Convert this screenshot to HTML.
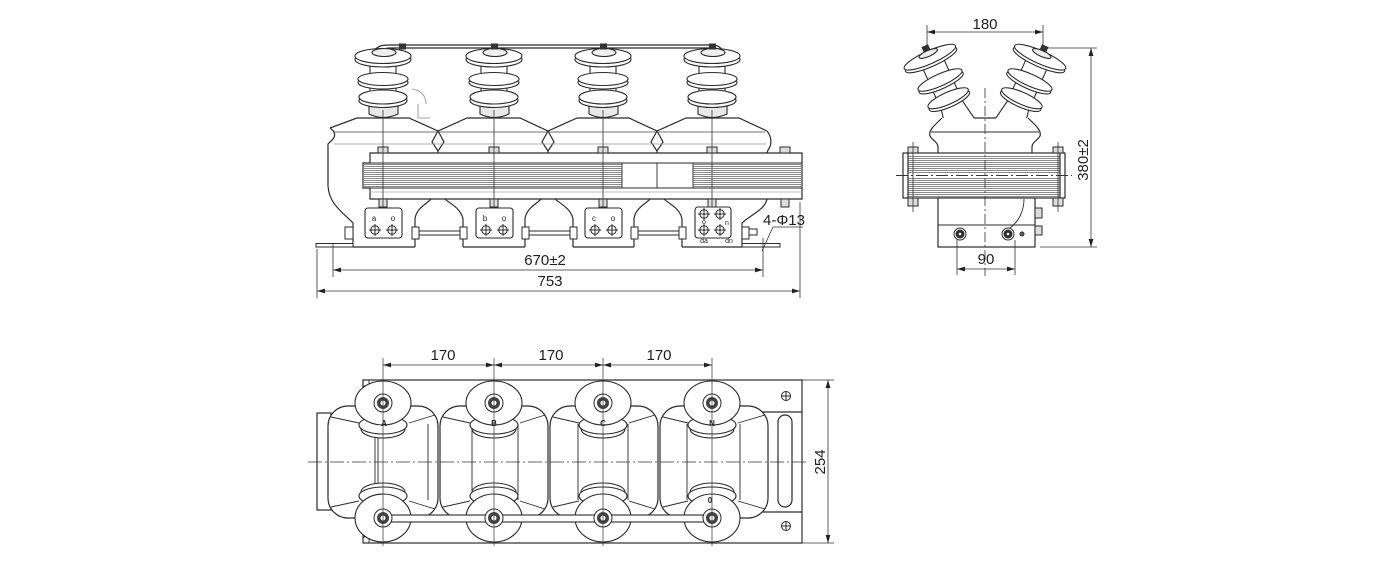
<!DOCTYPE html>
<html><head><meta charset="utf-8">
<style>
html,body{margin:0;padding:0;background:#fff;width:1400px;height:566px;overflow:hidden}
svg{display:block}
text{font-family:"Liberation Sans",Arial,sans-serif;fill:#1e1e1e}
</style></head><body>
<svg xmlns="http://www.w3.org/2000/svg" width="1400" height="566" viewBox="0 0 1400 566">
<defs>
<marker id="ar" viewBox="0 0 8 6" refX="8" refY="3" markerWidth="8" markerHeight="6" markerUnits="userSpaceOnUse" orient="auto-start-reverse"><path d="M0,0.6 L8,3 L0,5.4 Z" fill="#222"/></marker>
<g id="fins" stroke="#2b2b2b" stroke-width="1.1">
 <rect x="-13" y="56" width="26" height="50" fill="#fff"/>
 <path d="M-14,104 L-14,114 Q0,121 15,114 L15,104 Z" fill="#e8e8e8"/>
 <ellipse cx="0" cy="100.5" rx="24" ry="7" fill="#fff"/>
 <ellipse cx="0" cy="97" rx="24" ry="7" fill="#fff"/>
 <ellipse cx="0" cy="82.5" rx="25" ry="6.5" fill="#fff"/>
 <ellipse cx="0" cy="79" rx="25" ry="6.5" fill="#fff"/>
 <ellipse cx="0" cy="59.5" rx="28" ry="7.5" fill="#fff"/>
 <ellipse cx="0" cy="56" rx="28" ry="7.5" fill="#fff"/>
 <ellipse cx="1" cy="52.5" rx="12" ry="4" fill="#efefef"/>
</g>
<g id="sins" stroke="#2b2b2b" stroke-width="1.1">
 <path d="M-11,-30 L-11,28 L-15,50 L16,50 L12,28 L12,-30 Z" fill="#fff"/>
 <ellipse cx="0" cy="23" rx="22" ry="6" fill="#fff"/>
 <ellipse cx="0" cy="20" rx="22" ry="6" fill="#fff"/>
 <ellipse cx="0" cy="3" rx="24" ry="6" fill="#fff"/>
 <ellipse cx="0" cy="0" rx="24" ry="6" fill="#fff"/>
 <ellipse cx="0" cy="-22" rx="28" ry="6.5" fill="#fff"/>
 <ellipse cx="0" cy="-25" rx="28" ry="6.5" fill="#fff"/>
 <ellipse cx="0" cy="-29" rx="10" ry="3" fill="#eee"/>
 <rect x="-3" y="-37" width="6" height="5" fill="#333"/>
</g>
<g id="ptop" stroke="#2b2b2b" stroke-width="1.1">
 <ellipse cx="0" cy="26" rx="22" ry="9" fill="#fff"/>
 <ellipse cx="0" cy="22" rx="24" ry="9" fill="#fff"/>
 <ellipse cx="0" cy="0" rx="28" ry="22" fill="#fff"/>
</g>
<g id="pbot" stroke="#2b2b2b" stroke-width="1.1">
 <ellipse cx="0" cy="-26" rx="22" ry="9" fill="#fff"/>
 <ellipse cx="0" cy="-22" rx="24" ry="9" fill="#fff"/>
 <ellipse cx="0" cy="0" rx="28" ry="24" fill="#fff"/>
</g>
<g id="ring" stroke="#2b2b2b" stroke-width="1">
 <circle r="9" fill="#fff"/><circle r="6" fill="#444" stroke="none"/><circle r="3" fill="#fff" stroke-width="0.8"/>
</g>
<g id="tc" stroke="#2b2b2b" stroke-width="1"><circle r="4.2" fill="#fff"/><path d="M-6,0 H6 M0,-6 V6"/></g>
</defs>

<!-- ================= FRONT VIEW ================= -->
<g fill="none" stroke="#2b2b2b" stroke-width="1.2">
 <path d="M375,50 C378,46 382,45 388,45 L712,45 C717,45 721,47 723,52"/>
 <path d="M380,51 C383,49 386,48 390,48 L711,48 C715,48 718,50 719,53"/>
 <path d="M330,128 L357,118 L409,118 L438,131 L467,118 L520,118 L548,131 L577,118 L629,118 L657,131 L686,118 L739,118 L767,131"/>
 <path d="M330,128 C336,132 336,137 331,141 L328,144 L328,186 C329,205 345,214 353,223 L353,247"/>
 <path d="M767,131 C772,137 772,145 768,150 L767,153"/>
 <path d="M767,199 C765,210 750,215 742,223 L742,247"/>
 <path d="M438,131 L432,142 L438,151 L444,142 Z M438,151 V153"/>
 <path d="M548,131 L542,142 L548,151 L554,142 Z M548,151 V153"/>
 <path d="M657,131 L651,142 L657,151 L663,142 Z M657,151 V153"/>
 <path d="M333,132 H765" stroke="#444" stroke-width="0.8"/>
 <path d="M334,144 H766" stroke="#999" stroke-width="0.7"/>
 <path d="M415,247 V219 C416,208 428,203 431,199 M445,199 C449,203 461,208 463,219 V247"/>
 <path d="M525,247 V219 C526,208 538,203 541,199 M555,199 C559,203 571,208 573,219 V247"/>
 <path d="M634,247 V219 C635,208 647,203 650,199 M664,199 C668,203 680,208 682,219 V247"/>
 <path d="M353,247 H415 M463,247 H525 M573,247 H634 M682,247 H742"/>
 <path d="M412,89 C420,90 426,95 426,104 M418,104 V118 H430" stroke="#888" stroke-width="0.8"/>
</g>
<use href="#fins" x="383"/>
<use href="#fins" x="494"/>
<use href="#fins" x="603"/>
<use href="#fins" x="712"/>
<g fill="#333">
 <rect x="399" y="43.5" width="7" height="6"/>
 <rect x="491" y="43.5" width="7" height="6"/>
 <rect x="600" y="43.5" width="7" height="6"/>
 <rect x="709" y="43.5" width="7" height="6"/>
</g>
<!-- core -->
<g fill="none" stroke="#2b2b2b" stroke-width="1.2">
 <path d="M370,153 H802 V199 H370 V188 H363 V163 H370 Z" fill="#fff"/>
 <path d="M363,164.5H622M693,164.5H802M363,166.5H622M693,166.5H802M363,168.5H622M693,168.5H802M363,170.5H622M693,170.5H802M363,172.5H622M693,172.5H802M363,174.5H622M693,174.5H802M363,176.5H622M693,176.5H802M363,178.5H622M693,178.5H802M363,180.5H622M693,180.5H802M363,182.5H622M693,182.5H802M363,184.5H622M693,184.5H802M363,186.5H622M693,186.5H802" stroke="#8a8a8a" stroke-width="1"/>
 <path d="M363,163 H802 M363,188 H802 M622,163 V188 M693,163 V188 M657,163 V188" stroke-width="0.9"/>
 <path d="M370,192 H802" stroke="#aaa" stroke-width="0.7"/>
</g>
<g fill="#ddd" stroke="#2b2b2b" stroke-width="1">
 <rect x="378" y="147" width="10" height="6"/><rect x="489" y="147" width="10" height="6"/>
 <rect x="598" y="147" width="10" height="6"/><rect x="707" y="147" width="10" height="6"/>
 <rect x="780" y="147" width="10" height="6"/>
 <rect x="379" y="199" width="8" height="8"/><rect x="490" y="199" width="8" height="8"/>
 <rect x="599" y="199" width="8" height="8"/><rect x="708" y="199" width="8" height="8"/>
 <rect x="781" y="199" width="8" height="8"/>
</g>
<path d="M383,110 V208 M494,110 V208 M603,110 V208 M712,110 V208" stroke="#333" stroke-width="0.8"/>
<g fill="#fff" stroke="#2b2b2b" stroke-width="1.1">
 <rect x="365" y="208" width="37" height="30" rx="3"/>
 <rect x="476" y="208" width="37" height="30" rx="3"/>
 <rect x="585" y="208" width="37" height="30" rx="3"/>
 <rect x="695" y="207" width="36" height="31" rx="3"/>
</g>
<use href="#tc" x="375" y="230"/><use href="#tc" x="392" y="230"/>
<use href="#tc" x="486" y="230"/><use href="#tc" x="503" y="230"/>
<use href="#tc" x="595" y="230"/><use href="#tc" x="612" y="230"/>
<use href="#tc" x="704" y="214"/><use href="#tc" x="720" y="214"/>
<use href="#tc" x="704" y="230"/><use href="#tc" x="720" y="230"/>
<g font-size="8" text-anchor="middle">
 <text x="374" y="221">a</text><text x="393" y="221">o</text>
 <text x="485" y="221">b</text><text x="504" y="221">o</text>
 <text x="594" y="221">c</text><text x="613" y="221">o</text>
 <text x="704" y="224" font-size="7">o</text><text x="727" y="225" font-size="7">n</text>
 <text x="704" y="243" font-size="7">da</text><text x="729" y="243" font-size="7">dn</text>
</g>
<g fill="#fff" stroke="#2b2b2b" stroke-width="1">
 <path d="M418,231 H460 M418,235 H460 M528,231 H570 M528,235 H570 M637,231 H679 M637,235 H679" fill="none"/>
 <rect x="345" y="227" width="8" height="12"/>
 <rect x="412" y="227" width="7" height="12"/><rect x="460" y="227" width="7" height="12"/>
 <rect x="522" y="227" width="7" height="12"/><rect x="570" y="227" width="7" height="12"/>
 <rect x="631" y="227" width="7" height="12"/><rect x="679" y="227" width="7" height="12"/>
 <rect x="742" y="227" width="7" height="12"/><rect x="749" y="229" width="8" height="6"/>
 <rect x="316" y="243.5" width="37" height="3.5"/>
 <rect x="742" y="243.5" width="38" height="3.5"/>
</g>
<g stroke="#333" stroke-width="0.8" fill="none">
 <path d="M333,243 V277 M763,238 V277 M317,249 V298 M800,202 V298"/>
 <line x1="333" y1="270" x2="763" y2="270" marker-start="url(#ar)" marker-end="url(#ar)"/>
 <line x1="317" y1="291" x2="800" y2="291" marker-start="url(#ar)" marker-end="url(#ar)"/>
 <path d="M803,227 H773 L762,251"/>
</g>
<g font-size="15" text-anchor="middle">
 <text x="545" y="265">670±2</text>
 <text x="550" y="286">753</text>
</g>
<text x="763" y="225" font-size="15">4-Φ13</text>

<!-- ================= SIDE VIEW ================= -->
<use href="#sins" transform="translate(940,80) rotate(-24)"/>
<g transform="translate(1970,0) scale(-1,1)"><use href="#sins" transform="translate(940,80) rotate(-24)"/></g>
<path d="M942,118 L1028,118 C1034,124 1042,130 1040,136 C1038,140 1032,142 1032,147 L1032,153 L938,153 L938,147 C938,142 932,140 930,136 C928,130 936,124 942,118 Z" fill="#fff"/>
<g fill="none" stroke="#2b2b2b" stroke-width="1.2">
 <path d="M942,118 C936,124 928,130 930,136 C932,140 938,142 938,147 L938,153"/>
 <path d="M1028,118 C1034,124 1042,130 1040,136 C1038,140 1032,142 1032,147 L1032,153"/>
 <path d="M974,118 H996"/>
 <path d="M931,132 H1039" stroke-width="0.9"/>
 <rect x="903" y="153" width="162" height="45" fill="#fff"/>
 <path d="M908,156.5H1060M908,158.5H1060M908,160.5H1060M908,162.5H1060M908,164.5H1060M908,166.5H1060M908,168.5H1060M908,170.5H1060M908,172.5H1060M908,178.5H1060M908,180.5H1060M908,182.5H1060M908,184.5H1060M908,186.5H1060M908,188.5H1060M908,190.5H1060M908,192.5H1060M908,194.5H1060M908,196.5H1060" stroke="#8a8a8a" stroke-width="1"/>
 <path d="M896,175.5 H1072" stroke="#333" stroke-width="1" stroke-dasharray="12 3 2 3"/>
 <path d="M908,153 V198 M1060,153 V198"/>
 <rect x="938" y="198" width="97" height="49" fill="#fff"/>
 <path d="M938,225 H1035" stroke-width="0.9"/>
 <path d="M1024,199 C1024,212 1018,222 1010,228" stroke-width="0.9"/>
</g>
<g fill="#ddd" stroke="#2b2b2b" stroke-width="1">
 <rect x="908" y="147" width="10" height="6"/><rect x="1053" y="147" width="10" height="6"/>
 <rect x="908" y="198" width="10" height="8"/><rect x="1053" y="198" width="10" height="8"/>
 <rect x="1035" y="208" width="7" height="10"/><rect x="1035" y="226" width="7" height="9"/>
</g>
<path d="M913,142 V212 M1058,142 V212" stroke="#333" stroke-width="0.8"/>
<g stroke="#2b2b2b" stroke-width="1">
 <circle cx="960" cy="234" r="6" fill="#fff"/><circle cx="960" cy="234" r="4" fill="#333"/><circle cx="960" cy="234" r="1.8" fill="#fff"/>
 <circle cx="1008" cy="234" r="6" fill="#fff"/><circle cx="1008" cy="234" r="4" fill="#333"/><circle cx="1008" cy="234" r="1.8" fill="#fff"/>
 <circle cx="1022" cy="234" r="2" fill="#666"/>
</g>
<path d="M985,88 V276" stroke="#333" stroke-width="0.8" stroke-dasharray="10 3 2 3"/>
<g stroke="#333" stroke-width="0.8" fill="none">
 <path d="M927,25 V47 M1043,25 V47"/>
 <line x1="927" y1="32" x2="1043" y2="32" marker-start="url(#ar)" marker-end="url(#ar)"/>
 <path d="M1045,48 H1097 M1040,247 H1097"/>
 <line x1="1091" y1="48" x2="1091" y2="247" marker-start="url(#ar)" marker-end="url(#ar)"/>
 <path d="M957,240 V275 M1015,240 V275"/>
 <line x1="957" y1="269" x2="1015" y2="269" marker-start="url(#ar)" marker-end="url(#ar)"/>
</g>
<g font-size="15" text-anchor="middle">
 <text x="985" y="29">180</text>
 <text x="986" y="264">90</text>
 <text transform="translate(1088,160) rotate(-90)">380±2</text>
</g>

<!-- ================= PLAN VIEW ================= -->
<g fill="none" stroke="#2b2b2b" stroke-width="1.2">
 <rect x="363" y="380" width="439" height="163" fill="#fff"/>
 <path d="M363,386 H369 V380 M363,537 H369 V543" stroke-width="0.9"/>
 <rect x="317" y="413" width="14" height="97" fill="#fff"/>
 <rect x="328" y="406" width="110" height="112" rx="20" fill="#fff"/>
 <rect x="440" y="406" width="108" height="112" rx="20" fill="#fff"/>
 <rect x="550" y="406" width="108" height="112" rx="20" fill="#fff"/>
 <rect x="660" y="406" width="108" height="112" rx="20" fill="#fff"/>
 <path d="M762,412 H802 M762,512 H802"/>
 <rect x="778" y="415" width="14" height="92" rx="7"/>
 <g stroke-width="0.9">
 <path d="M375,426 V498 M378,426 V498 M428,424 V500 M472,424 V500 M518,424 V500 M578,424 V500 M628,424 V500 M687,424 V500 M740,424 V500"/>
 <path d="M331,417 L359,423 M409,423 L435,415 M331,507 L359,501 M409,501 L435,509"/>
 <path d="M443,417 L470,423 M520,423 L545,415 M443,507 L470,501 M520,501 L545,509"/>
 <path d="M553,417 L579,423 M629,423 L655,415 M553,507 L579,501 M629,501 L655,509"/>
 <path d="M663,417 L688,423 M738,423 L765,415 M663,507 L688,501 M738,501 L765,509"/>
 </g>
</g>
<g stroke="#2b2b2b" stroke-width="1" fill="#fff">
 <circle cx="786" cy="396" r="4.5"/><path d="M781,396 H791 M786,391 V401"/>
 <circle cx="786" cy="526" r="4.5"/><path d="M781,526 H791 M786,521 V531"/>
</g>
<use href="#ptop" x="383" y="403"/><use href="#ptop" x="494" y="403"/>
<use href="#ptop" x="603" y="403"/><use href="#ptop" x="712" y="403"/>
<use href="#pbot" x="383" y="518"/><use href="#pbot" x="494" y="518"/>
<use href="#pbot" x="603" y="518"/><use href="#pbot" x="712" y="518"/>
<rect x="383" y="515" width="329" height="7" fill="#fff" stroke="#2b2b2b" stroke-width="1.1"/>
<use href="#ring" x="383" y="403"/><use href="#ring" x="494" y="403"/>
<use href="#ring" x="603" y="403"/><use href="#ring" x="712" y="403"/>
<use href="#ring" x="383" y="518"/><use href="#ring" x="494" y="518"/>
<use href="#ring" x="603" y="518"/><use href="#ring" x="712" y="518"/>
<g font-size="8" text-anchor="middle" font-weight="bold">
 <text x="384" y="426">A</text><text x="494" y="426">B</text>
 <text x="603" y="426">C</text><text x="712" y="426">N</text>
 <text x="710" y="503">0</text>
</g>
<path d="M383,358 V546 M494,358 V546 M603,358 V546 M712,358 V546" stroke="#333" stroke-width="0.7"/>
<path d="M308,462 H806" stroke="#333" stroke-width="0.8" stroke-dasharray="14 3 2 3"/>
<g stroke="#333" stroke-width="0.8" fill="none">
 <line x1="383" y1="365" x2="494" y2="365" marker-start="url(#ar)" marker-end="url(#ar)"/>
 <line x1="494" y1="365" x2="603" y2="365" marker-start="url(#ar)" marker-end="url(#ar)"/>
 <line x1="603" y1="365" x2="712" y2="365" marker-start="url(#ar)" marker-end="url(#ar)"/>
 <path d="M802,380 H834 M802,543 H834"/>
 <line x1="828" y1="380" x2="828" y2="543" marker-start="url(#ar)" marker-end="url(#ar)"/>
</g>
<g font-size="15" text-anchor="middle">
 <text x="443" y="360">170</text>
 <text x="551" y="360">170</text>
 <text x="659" y="360">170</text>
 <text transform="translate(825,462) rotate(-90)">254</text>
</g>
</svg>
</body></html>
